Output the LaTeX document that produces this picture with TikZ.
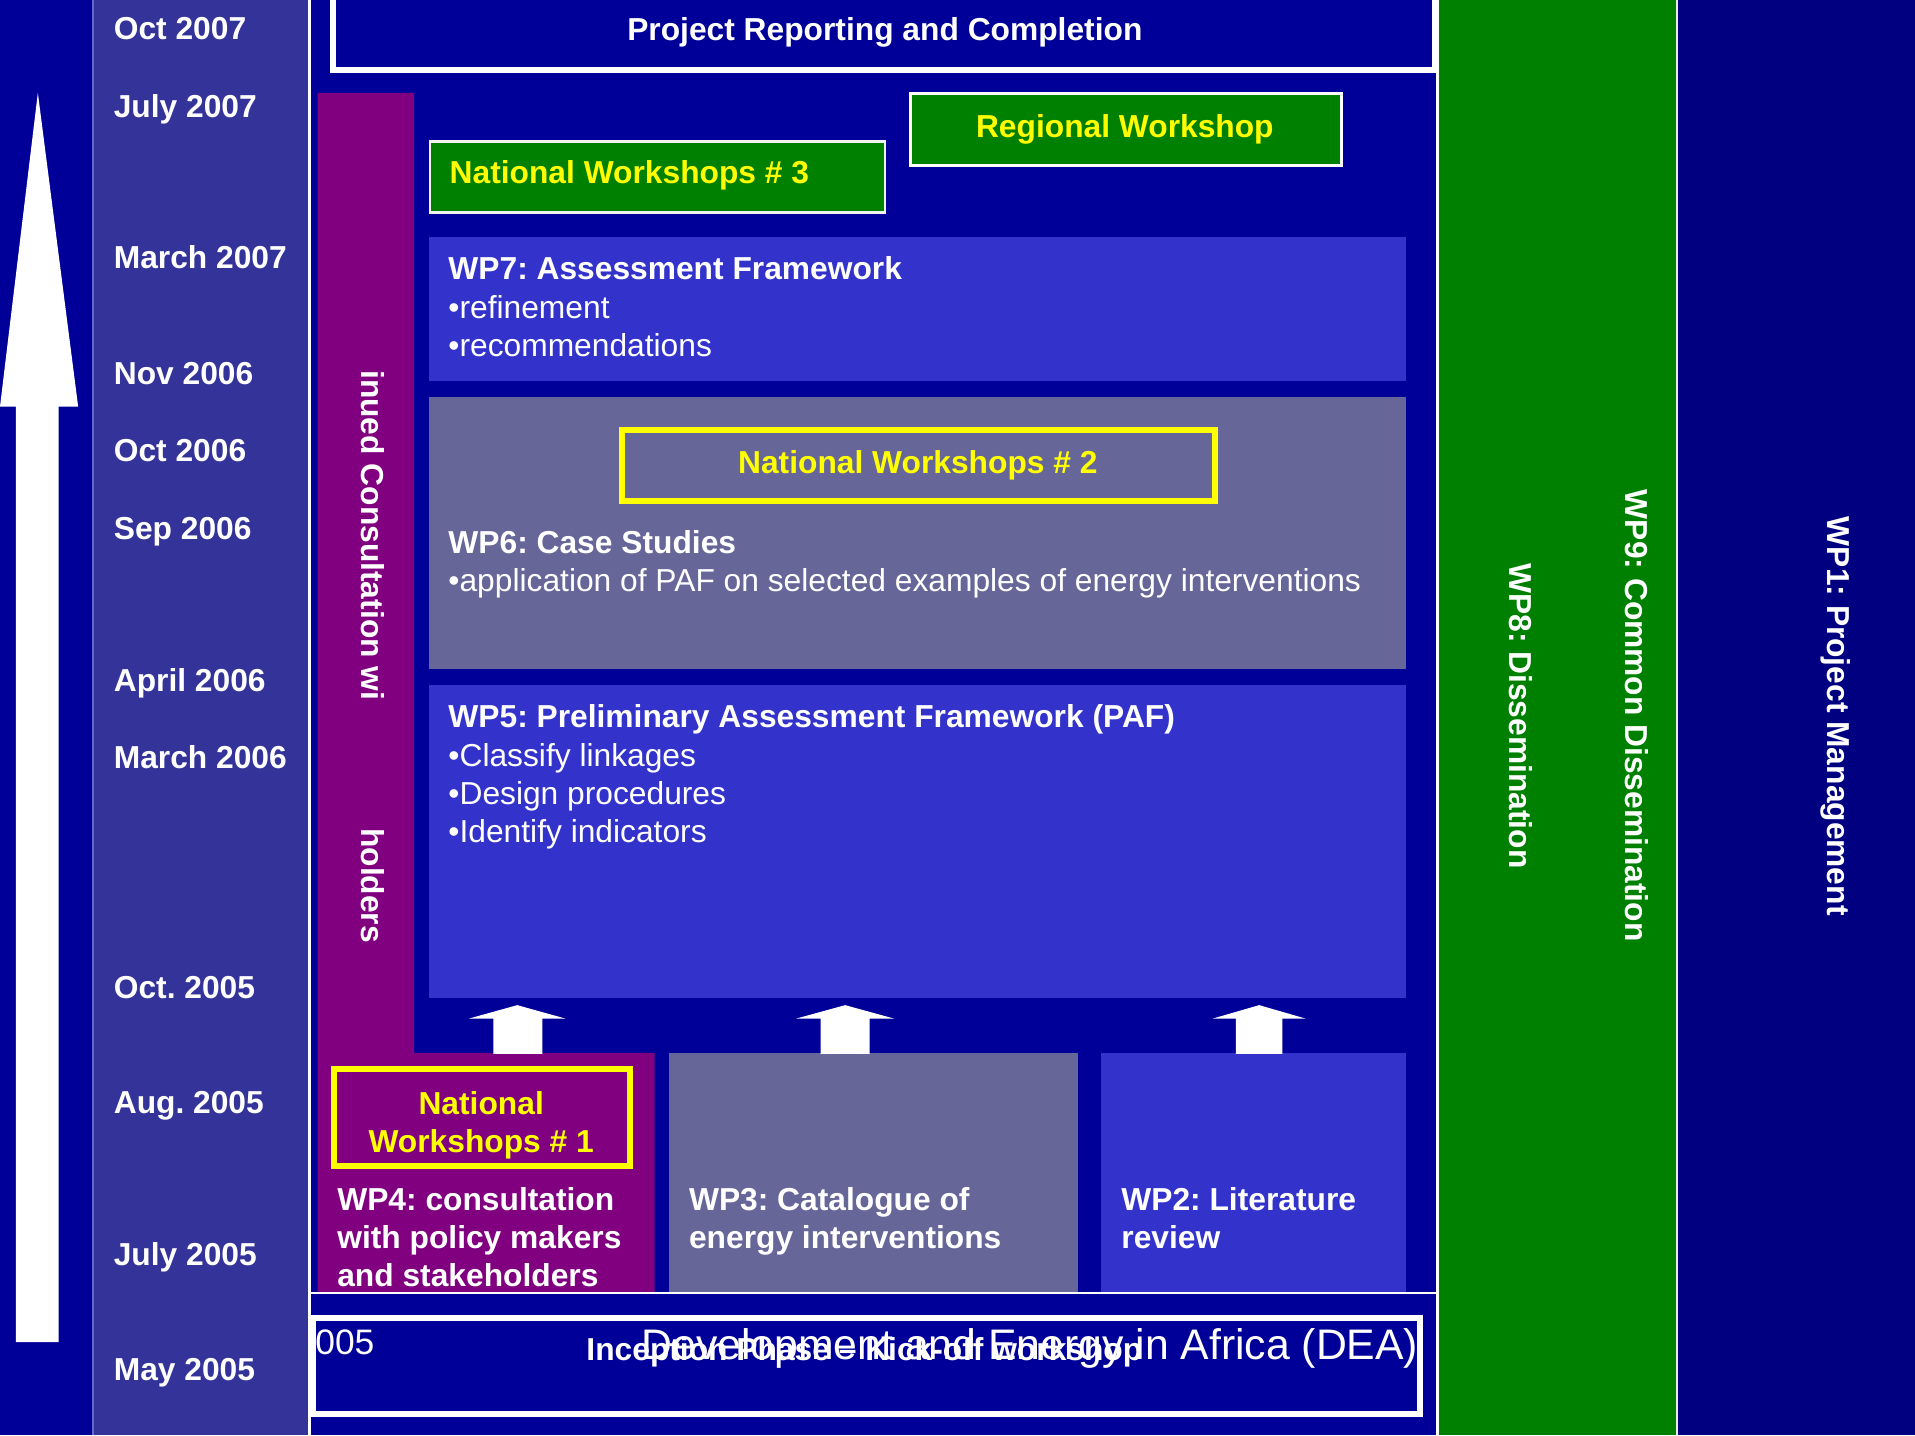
\documentclass[tikz,border=0pt]{standalone}
\usepackage{fontspec}
\setmainfont{Liberation Sans}
\frenchspacing
\definecolor{mainblue}{HTML}{000099}
\definecolor{datecol}{HTML}{333399}
\definecolor{wppurple}{HTML}{800080}
\definecolor{wpgrey}{HTML}{666699}
\definecolor{wpblue}{HTML}{3333CC}
\definecolor{wpgreen}{HTML}{008000}
\definecolor{navycol}{HTML}{000080}
\definecolor{wsyellow}{HTML}{FFFF00}
\definecolor{edgeline}{HTML}{6666CC}
\begin{document}
\frenchspacing
\begin{tikzpicture}[x=1pt,y=-1pt,
  bt/.style={text=white,font=\fontsize{26}{31}\selectfont\bfseries\frenchspacing,inner sep=0pt,anchor=base west},
  rt/.style={text=white,font=\fontsize{26}{31}\selectfont\frenchspacing,inner sep=0pt,anchor=base west},
  yt/.style={bt,text=wsyellow},
  vt/.style={bt,rotate=-90},
  date/.style={bt},
  blockarrow/.style={fill=white}]
\useasboundingbox (0,0) rectangle (1568,1175);
% backgrounds
\fill[mainblue] (0,0) rectangle (1568,1175);
\fill[datecol] (76,0) rectangle (253,1175);
\draw[edgeline,line width=1.5] (76,0) -- (76,1175);
\draw[white,line width=2] (253.5,0) -- (253.5,1175);
\fill[wpgreen] (1177,0) rectangle (1373,1175);
\fill[navycol] (1373,0) rectangle (1568,1175);
\draw[white,line width=2] (1177,0) -- (1177,1175);
\draw[white!85!gray,line width=2] (1373,0) -- (1373,1175);
% time arrow
\fill[white] (13,1099) -- (13,333) -- (0,333) -- (31,76) -- (64,333) -- (48,333) -- (48,1099) -- cycle;
% dates
\node[date] (d1) at (93,32.5) {Oct 2007};
\node[date] (d2) at (93,96) {July 2007};
\node[date] (d3) at (93,220) {March 2007};
\node[date] (d4) at (93,314.5) {Nov 2006};
\node[date] (d5) at (93,377.5) {Oct 2006};
\node[date] (d6) at (93,441.5) {Sep 2006};
\node[date] (d7) at (93,566.5) {April 2006};
\node[date] (d8) at (93,629.5) {March 2006};
\node[date] (d9) at (93,817.5) {Oct. 2005};
\node[date] (d10) at (93,911.5) {Aug. 2005};
\node[date] (d11) at (93,1036.5) {July 2005};
\node[date] (d12) at (93,1130.5) {May 2005};
% top box
\draw[white,line width=5] (273,-3) rectangle (1175,57);
\node[bt,anchor=base] (top) at (724.5,33.5) {Project Reporting and Completion};
% purple L
\fill[wppurple] (260,76) -- (339,76) -- (339,862) -- (536,862) -- (536,1058) -- (260,1058) -- cycle;
\node[vt] (cons1) at (296,303) {inued Consultation wi};
\node[vt] (cons2) at (296,678) {holders};
% WP7
\fill[wpblue] (351,194) rectangle (1151,312);
\node[bt] (wp7) at (367,228.5) {WP7: Assessment Framework};
\node[rt] (wp7a) at (367,260.5) {•refinement};
\node[rt] (wp7b) at (367,291.5) {•recommendations};
% WP6
\fill[wpgrey] (351,325) rectangle (1151,548);
\draw[wsyellow,line width=5] (509.5,352) rectangle (994.5,410.5);
\node[yt,anchor=base] (nw2) at (751.5,387.5) {National Workshops \# 2};
\node[bt] (wp6) at (367,453.5) {WP6: Case Studies};
\node[rt] (wp6a) at (367,484.5) {•application of PAF on selected examples of energy interventions};
% WP5
\fill[wpblue] (351,561) rectangle (1151,817);
\node[bt] (wp5) at (367,595.5) {WP5: Preliminary Assessment Framework (PAF)};
\node[rt] (wp5a) at (367,627.5) {•Classify linkages};
\node[rt] (wp5b) at (367,658.5) {•Design procedures};
\node[rt] (wp5c) at (367,689.5) {•Identify indicators};
% workshops 3 and regional
\fill[wpgreen] (351,115) rectangle (725,175);
\draw[white!90!gray,line width=2] (352,116) rectangle (724.5,174);
\node[yt] (nw3) at (368,150.5) {National Workshops \# 3};
\fill[wpgreen] (744,75) rectangle (1100,137);
\draw[white,line width=3] (745.5,76.5) rectangle (1098.5,135.5);
\node[yt,anchor=base] (reg) at (921,112.5) {Regional Workshop};
% bottom row
\fill[wpgrey] (548,862) rectangle (883,1058);
\fill[wpblue] (901.5,862) rectangle (1151,1058);
\draw[wsyellow,line width=5] (273.5,875.5) rectangle (515.5,954.5);
\node[yt,anchor=base] (nw1a) at (394,912.5) {National};
\node[yt,anchor=base] (nw1b) at (394,943.5) {Workshops \# 1};
\node[bt] (wp4a) at (276,991.5) {WP4: consultation};
\node[bt] (wp4b) at (276,1022.5) {with policy makers};
\node[bt] (wp4c) at (276,1053.5) {and stakeholders};
\node[bt] (wp3a) at (564,991.5) {WP3: Catalogue of};
\node[bt] (wp3b) at (564,1022.5) {energy interventions};
\node[bt] (wp2a) at (918,991.5) {WP2: Literature};
\node[bt] (wp2b) at (918,1022.5) {review};
% block arrows
\fill[blockarrow] (404,863) -- (404,834) -- (384,834) -- (423.5,823) -- (463,834) -- (444,834) -- (444,863) -- cycle;
\fill[blockarrow] (672,863) -- (672,834) -- (652,834) -- (692,823) -- (732,834) -- (712,834) -- (712,863) -- cycle;
\fill[blockarrow] (1012,863) -- (1012,834) -- (993,834) -- (1031,823) -- (1069,834) -- (1050,834) -- (1050,863) -- cycle;
% separator
\draw[white,line width=2] (254,1058.5) -- (1177,1058.5);
% inception box
\draw[white,line width=5] (256.5,1079) rectangle (1162.5,1157.5);
\node[rt,font=\fontsize{29}{34}\selectfont] (yr) at (258,1109) {005};
\node[bt] (incep) at (480,1114) {Inception Phase – Kick-off workshop};
\node[rt,font=\fontsize{35}{40}\selectfont] (dea) at (525,1113.5) {Development and Energy in Africa (DEA)};
% right columns
\node[vt] (wp8) at (1236,461) {WP8: Dissemination};
\node[vt] (wp9) at (1331,401) {WP9: Common Dissemination};
\node[vt] (wp1) at (1496,423) {WP1: Project Management};
\end{tikzpicture}
\end{document}
